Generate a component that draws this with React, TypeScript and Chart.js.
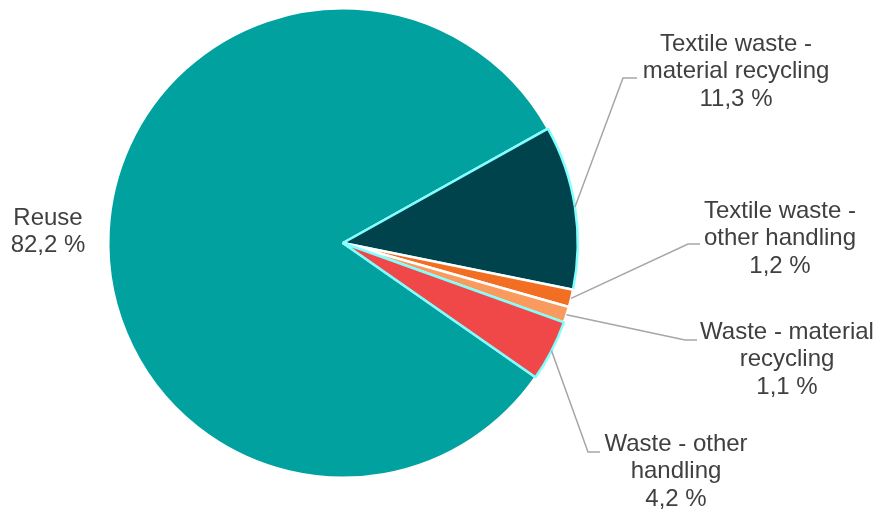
import React, { useEffect, useRef } from "react";
import { Chart, registerables } from "chart.js";

Chart.register(...registerables);

const categories = [
  "Reuse",
  "Textile waste - material recycling",
  "Textile waste - other handling",
  "Waste - material recycling",
  "Waste - other handling",
];
const shares = [82.2, 11.3, 1.2, 1.1, 4.2];
const valueLabels = ["82,2 %", "11,3 %", "1,2 %", "1,1 %", "4,2 %"];
const labelLines = [
  ["Reuse", "82,2 %"],
  ["Textile waste -", "material recycling", "11,3 %"],
  ["Textile waste -", "other handling", "1,2 %"],
  ["Waste - material", "recycling", "1,1 %"],
  ["Waste - other", "handling", "4,2 %"],
];
const colors = ["#00A19F", "#00434C", "#F26E22", "#F99B5E", "#F04848"];
const borderColors = ["#FFFFFF", "#7FFFFF", "#FFFFFF", "#FFFFFF", "#7FFFFF"];

// layout for the annotation labels (text centre x, first line y, elbow point, elbow end x)
const labelLayout = [
  { x: 48, y: 218, leader: false, ex: 0, ey: 0, hx: 0 },
  { x: 736, y: 44, leader: true, ex: 623, ey: 78, hx: 637 },
  { x: 780, y: 211, leader: true, ex: 688, ey: 244, hx: 700 },
  { x: 787, y: 332, leader: true, ex: 685, ey: 340, hx: 697 },
  { x: 676, y: 444, leader: true, ex: 588, ey: 452, hx: 600 },
];

const labelPlugin = {
  id: "pieLabels",
  afterDraw(chart: any) {
    const ctx = chart.ctx;
    const meta = chart.getDatasetMeta(0);
    ctx.save();
    meta.data.forEach((arc: any, i: number) => {
      const L = labelLayout[i];
      const p = arc.getProps(["x", "y", "startAngle", "endAngle", "outerRadius"], true);
      if (L.leader) {
        const mid = (p.startAngle + p.endAngle) / 2;
        const sx = p.x + Math.cos(mid) * p.outerRadius;
        const sy = p.y + Math.sin(mid) * p.outerRadius;
        ctx.strokeStyle = "#A6A6A6";
        ctx.lineWidth = 1.5;
        ctx.beginPath();
        ctx.moveTo(sx, sy);
        ctx.lineTo(L.ex, L.ey);
        ctx.lineTo(L.hx, L.ey);
        ctx.stroke();
      }
      ctx.fillStyle = "#404040";
      ctx.font = '24px "Liberation Sans", Arial, sans-serif';
      ctx.textAlign = "center";
      ctx.textBaseline = "middle";
      labelLines[i].forEach((t, j) => {
        ctx.fillText(t, L.x, L.y + j * 27.5);
      });
    });
    ctx.restore();
  },
};

export default function App() {
  const ref = useRef<HTMLCanvasElement | null>(null);
  useEffect(() => {
    document.body.style.margin = "0";
    const chart = new Chart(ref.current as HTMLCanvasElement, {
      type: "pie",
      data: {
        labels: categories,
        datasets: [
          {
            data: shares,
            backgroundColor: colors,
            borderColor: borderColors,
            borderWidth: 2.5,
          },
        ],
      },
      options: {
        animation: false,
        responsive: false,
        rotation: 124.9,
        layout: { padding: { left: 107, right: 298, top: 7, bottom: 31 } },
        plugins: {
          legend: { display: false },
          tooltip: { enabled: false },
        },
      },
      plugins: [labelPlugin],
    });
    return () => chart.destroy();
  }, []);
  return (
    <div style={{ position: "absolute", left: 0, top: 0, width: 877, height: 510, background: "#fff" }}>
      <canvas ref={ref} width={877} height={510} />
    </div>
  );
}
